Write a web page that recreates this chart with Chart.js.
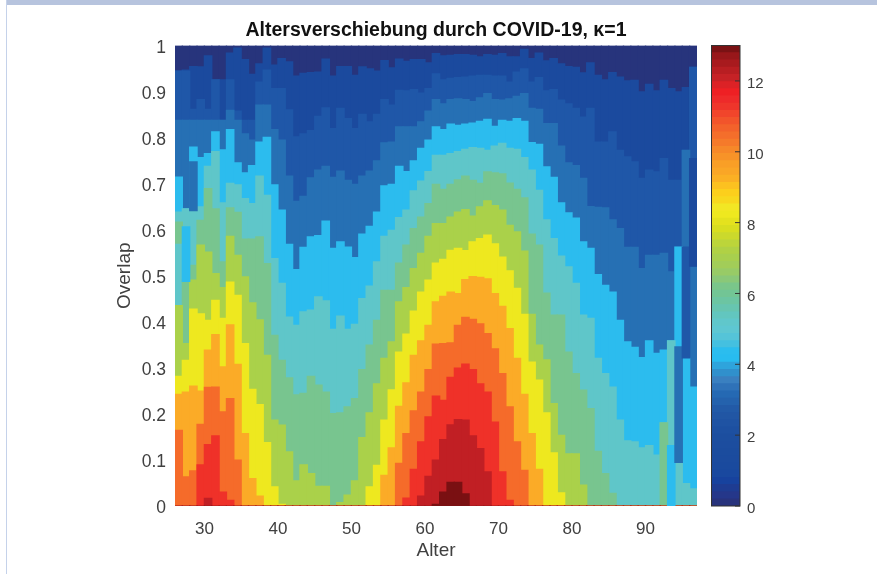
<!DOCTYPE html>
<html>
<head>
<meta charset="utf-8">
<title>Altersverschiebung</title>
<script src="https://cdn.jsdelivr.net/npm/chart.js"></script>
<style>
    html, body { margin: 0; padding: 0; background: #fff; overflow: hidden; }
    #page { position: relative; width: 877px; height: 574px; }
    #topBand { position: absolute; left: 6px; right: 0; top: 0; height: 5px; background: #b7c4de; }
    #leftLine { position: absolute; left: 6px; top: 0; bottom: 0; width: 1px; background: #c5d2ea; }
    canvas { position: absolute; left: 0; top: 0; }
</style>
</head>
<body>
<div id="page">
    <div id="topBand"></div>
    <div id="leftLine"></div>
    <canvas id="heatChart" width="877" height="574"></canvas>
    <canvas id="barChart" width="877" height="574"></canvas>
</div>
<script>
// Age of each column (left edge of the cell)
const ages = [
    26, 27, 28, 29, 30, 31, 32, 33, 34, 35,
    36, 37, 38, 39, 40, 41, 42, 43, 44, 45,
    46, 47, 48, 49, 50, 51, 52, 53, 54, 55,
    56, 57, 58, 59, 60, 61, 62, 63, 64, 65,
    66, 67, 68, 69, 70, 71, 72, 73, 74, 75,
    76, 77, 78, 79, 80, 81, 82, 83, 84, 85,
    86, 87, 88, 89, 90, 91, 92, 93, 94, 95, 96
];

// Overlap up to which the shift is at least n, per age
const atLeast1 = [
    .945, .947, .955, .954, .978, .926, .926, .984, .995, .970,
    .938, .961, .995, .958, .972, .965, .934, .940, .942, .943,
    .971, .934, .955, .955, .936, .954, .950, .945, .968, .952,
    .971, .966, .970, .970, .963, .983, .978, .979, .981, .981,
    .979, .976, .981, .979, .983, .976, .976, .992, .972, .984,
    .967, .972, .961, .955, .953, .941, .963, .936, .926, .942,
    .932, .924, .925, .900, .916, .902, .925, .907, .900, .909, .953
];
const atLeast2 = [
    .945, .945, .862, .883, .862, .926, .838, .926, .858, .838,
    .838, .921, .947, .907, .907, .861, .802, .809, .816, .847,
    .865, .820, .864, .842, .820, .851, .835, .851, .883, .871,
    .903, .902, .905, .897, .907, .939, .926, .929, .931, .932,
    .934, .936, .936, .934, .934, .921, .943, .950, .921, .931,
    .902, .905, .882, .874, .864, .845, .864, .791, .791, .813,
    .773, .759, .748, .712, .730, .726, .755, .708, .708, .773, .953
];
const atLeast3 = [
    .838, .838, .838, .838, .838, .838, .838, .860, .838, .809,
    .795, .871, .871, .818, .795, .717, .662, .673, .713, .730,
    .738, .714, .728, .708, .699, .717, .728, .750, .789, .791,
    .824, .824, .824, .835, .858, .883, .874, .883, .885, .883,
    .879, .887, .896, .883, .882, .885, .890, .896, .864, .862,
    .831, .831, .782, .746, .740, .712, .651, .649, .648, .622,
    .603, .562, .562, .516, .545, .545, .549, .509, .563, .773, .520
];
const atLeast4 = [
    .715, .646, .780, .757, .766, .813, .774, .818, .746, .724,
    .740, .791, .801, .698, .643, .569, .514, .562, .585, .588,
    .619, .560, .574, .563, .540, .591, .608, .639, .696, .699,
    .738, .727, .750, .777, .795, .824, .818, .830, .827, .830,
    .832, .836, .840, .825, .838, .836, .842, .836, .790, .786,
    .737, .714, .659, .637, .626, .574, .560, .503, .480, .465,
    .404, .357, .345, .323, .359, .332, .339, .359, .563, .321, .259
];
const atLeast5 = [
    .639, .646, .641, .650, .738, .770, .659, .701, .698, .668,
    .657, .717, .675, .538, .484, .411, .393, .422, .426, .455,
    .446, .384, .413, .384, .395, .451, .478, .531, .586, .599,
    .627, .643, .685, .706, .727, .762, .762, .766, .770, .775,
    .779, .777, .773, .782, .788, .777, .775, .757, .730, .686,
    .622, .581, .543, .520, .484, .415, .408, .321, .288, .259,
    .187, .142, .140, .127, .132, .111, .181, .359, .094, .049, .038
];
const atLeast6 = [
    .436, .491, .523, .621, .690, .646, .531, .648, .638, .580,
    .580, .585, .527, .371, .317, .279, .242, .245, .282, .263,
    .248, .201, .203, .216, .234, .297, .350, .404, .469, .469,
    .528, .567, .603, .628, .657, .699, .688, .699, .709, .717,
    .708, .701, .726, .724, .722, .702, .688, .670, .591, .567,
    .463, .415, .415, .335, .288, .252, .212, .119, .071, .028,
    0, 0, 0, 0, 0, 0, .181, 0, 0, 0, 0
];
const atLeast7 = [
    .436, .353, .491, .567, .552, .505, .475, .586, .545, .498,
    .442, .405, .328, .187, .176, .118, .055, .090, .071, .043,
    .043, 0, .008, .024, .055, .149, .203, .266, .321, .357,
    .444, .475, .516, .549, .586, .614, .614, .628, .639, .644,
    .630, .650, .663, .653, .643, .610, .596, .554, .417, .350,
    .318, .223, .154, .114, .114, .046, 0, 0, 0, 0,
    0, 0, 0, 0, 0, 0, 0, 0, 0, 0, 0
];
const atLeast8 = [
    .282, .317, .428, .418, .404, .447, .408, .487, .458, .353,
    .254, .221, .138, .042, .004, 0, 0, 0, 0, 0,
    0, 0, 0, 0, 0, 0, .042, .089, .187, .253,
    .335, .374, .424, .465, .491, .528, .536, .556, .560, .555,
    .574, .581, .589, .570, .541, .511, .473, .417, .313, .274,
    .203, .116, .029, 0, 0, 0, 0, 0, 0, 0,
    0, 0, 0, 0, 0, 0, 0, 0, 0, 0, 0
];
const atLeast9 = [
    .243, .248, .261, .250, .339, .373, .303, .394, .308, .158,
    .060, .022, 0, 0, 0, 0, 0, 0, 0, 0,
    0, 0, 0, 0, 0, 0, 0, 0, .067, .127,
    .217, .268, .328, .359, .393, .444, .456, .465, .462, .492,
    .499, .497, .494, .462, .434, .386, .321, .243, .158, .080,
    0, 0, 0, 0, 0, 0, 0, 0, 0, 0,
    0, 0, 0, 0, 0, 0, 0, 0, 0, 0, 0
];
const atLeast10 = [
    .165, .064, .077, .178, .258, .259, .205, .234, .100, 0,
    0, 0, 0, 0, 0, 0, 0, 0, 0, 0,
    0, 0, 0, 0, 0, 0, 0, 0, 0, 0,
    .093, .158, .207, .248, .297, .352, .353, .355, .393, .410,
    .406, .396, .375, .342, .288, .216, .140, .078, 0, 0,
    0, 0, 0, 0, 0, 0, 0, 0, 0, 0,
    0, 0, 0, 0, 0, 0, 0, 0, 0, 0, 0
];
const atLeast11 = [
    0, 0, 0, .090, .134, .153, .031, .013, 0, 0,
    0, 0, 0, 0, 0, 0, 0, 0, 0, 0,
    0, 0, 0, 0, 0, 0, 0, 0, 0, 0,
    0, .018, .080, .140, .194, .239, .230, .280, .300, .309,
    .297, .266, .248, .183, .075, .013, 0, 0, 0, 0,
    0, 0, 0, 0, 0, 0, 0, 0, 0, 0,
    0, 0, 0, 0, 0, 0, 0, 0, 0, 0, 0
];
const atLeast12 = [
    0, 0, 0, 0, .017, 0, 0, 0, 0, 0,
    0, 0, 0, 0, 0, 0, 0, 0, 0, 0,
    0, 0, 0, 0, 0, 0, 0, 0, 0, 0,
    0, 0, 0, .022, .065, .100, .145, .177, .188, .187,
    .153, .125, .075, 0, 0, 0, 0, 0, 0, 0,
    0, 0, 0, 0, 0, 0, 0, 0, 0, 0,
    0, 0, 0, 0, 0, 0, 0, 0, 0, 0, 0
];
const atLeast13 = [
    0, 0, 0, 0, 0, 0, 0, 0, 0, 0,
    0, 0, 0, 0, 0, 0, 0, 0, 0, 0,
    0, 0, 0, 0, 0, 0, 0, 0, 0, 0,
    0, 0, 0, 0, 0, .004, .031, .052, .052, .027,
    0, 0, 0, 0, 0, 0, 0, 0, 0, 0,
    0, 0, 0, 0, 0, 0, 0, 0, 0, 0,
    0, 0, 0, 0, 0, 0, 0, 0, 0, 0, 0
];

// Cells that break the order inside their column
const islandAge = [26, 27, 28, 93, 94, 95, 96];
const islandLow = [.570, .487, .641, 0, .094, .321, .520];
const islandHigh = [.617, .607, .748, .132, .346, .563, .755];
const islandLevel = [6, 4, 3, 4, 3, 2, 1];

// Colours of the levels 0 to 13
const levelColors = [
    '#27347c', '#1b4a9e', '#1f57a8', '#2670b4', '#2cbcee', '#5fc6c9', '#78c58f',
    '#aad14a', '#eee81f', '#fbab27', '#f56b2a', '#ef3129', '#c11f24', '#7a1012'
];

// Colour bar, bottom to top
const barColors = [
    '#28337c', '#25378a', '#1e3c92', '#17429e', '#19489f', '#1a4a9e', '#1b4b9e', '#1b4c9e',
    '#1c4d9f', '#1c4e9f', '#1d50a1', '#1f53a3', '#2156a4', '#225aa7', '#2462ad', '#2569b3',
    '#2f72b8', '#3a80c0', '#3090cc', '#2ea4dc', '#28bcef', '#2bbdee', '#44c0e0', '#55c4d8',
    '#5ec7d2', '#60c7cb', '#62c6bf', '#67c5b0', '#6cc5a2', '#72c595', '#7ac68a', '#8ac878',
    '#98cb66', '#a2cd58', '#a8cf4e', '#b0d145', '#bcd53a', '#cbd92c', '#d8de20', '#e4e21e',
    '#eee81f', '#f2e724', '#f8d81e', '#fccf1c', '#fcc120', '#fbb024', '#faa626', '#f99f26',
    '#f79328', '#f68829', '#f57a2a', '#f46e2b', '#f3622b', '#f2542b', '#f1452b', '#ef352b',
    '#ee2a2a', '#ee2024', '#dc2226', '#c62226', '#b81e22', '#a81a1e', '#98171a', '#7a1214'
];

const xTicks = [30, 40, 50, 60, 70, 80, 90];
const yTicks = [0, .1, .2, .3, .4, .5, .6, .7, .8, .9, 1];
const barTicks = [0, 2, 4, 6, 8, 10, 12];
const barMax = 13;

const FONT = '"Liberation Sans", Arial, sans-serif';
const TEXT_COLOR = '#404040';

function initHeatChart() {
    const contours = [
        atLeast13, atLeast12, atLeast11, atLeast10, atLeast9, atLeast8, atLeast7,
        atLeast6, atLeast5, atLeast4, atLeast3, atLeast2, atLeast1
    ];

    // Dataset 0 is drawn last, so every lower contour covers the higher levels
    const datasets = [];
    datasets.push({
        data: islandAge.map((age, i) => ({ x: age + 0.5, y: [islandLow[i], islandHigh[i]] })),
        backgroundColor: islandLevel.map(level => levelColors[level])
    });
    contours.forEach((values, i) => {
        datasets.push({
            data: ages.map((age, j) => ({ x: age + 0.5, y: values[j] })),
            backgroundColor: levelColors[13 - i]
        });
    });
    // Level 0 fills the column up to overlap 1
    datasets.push({
        data: ages.map(age => ({ x: age + 0.5, y: 1 })),
        backgroundColor: levelColors[0]
    });

    const ctx = document.getElementById('heatChart').getContext('2d');
    return new Chart(ctx, {
        type: 'bar',
        data: { datasets: datasets },
        options: {
            responsive: false,
            animation: false,
            layout: { padding: { left: 113.6, right: 180, top: 0, bottom: 12 } },
            datasets: {
                bar: { grouped: false, barThickness: 8, borderWidth: 0 }
            },
            plugins: {
                legend: { display: false },
                tooltip: { enabled: false },
                title: {
                    display: true,
                    fullSize: false,
                    text: 'Altersverschiebung durch COVID-19, \u03BA=1',
                    color: '#111',
                    font: { family: FONT, size: 19.5, weight: 'bold' },
                    padding: { top: 19.3, bottom: 2.8 }
                }
            },
            scales: {
                x: {
                    type: 'linear',
                    offset: false,
                    min: 26,
                    max: 97,
                    grid: { display: false, drawTicks: false, offset: false },
                    border: { display: false },
                    afterBuildTicks: axis => { axis.ticks = xTicks.map(v => ({ value: v })); },
                    afterFit: axis => { axis.height = 56; },
                    ticks: {
                        color: TEXT_COLOR,
                        padding: 13,
                        maxRotation: 0,
                        autoSkip: false,
                        font: { family: FONT, size: 17 }
                    },
                    title: {
                        display: true,
                        text: 'Alter',
                        color: TEXT_COLOR,
                        padding: 0,
                        font: { family: FONT, size: 19 }
                    }
                },
                y: {
                    min: 0,
                    max: 1,
                    grid: { display: false, drawTicks: false },
                    border: { display: false },
                    afterBuildTicks: axis => { axis.ticks = yTicks.map(v => ({ value: v })); },
                    afterFit: axis => { axis.width = 61.4; },
                    ticks: {
                        color: TEXT_COLOR,
                        padding: 9,
                        labelOffset: 2.5,
                        autoSkip: false,
                        font: { family: FONT, size: 17.5 },
                        callback: value => String(value)
                    },
                    title: {
                        display: true,
                        text: 'Overlap',
                        color: TEXT_COLOR,
                        padding: 0,
                        font: { family: FONT, size: 19 }
                    }
                }
            }
        }
    });
}

function initBarChart() {
    // Frame and inward tick marks of the colour bar
    const barFrame = {
        id: 'barFrame',
        afterDatasetsDraw(chart) {
            const { ctx, chartArea, scales } = chart;
            ctx.save();
            ctx.strokeStyle = '#333';
            ctx.lineWidth = 1;
            ctx.strokeRect(chartArea.left, chartArea.top, chartArea.width, chartArea.height);
            barTicks.forEach(tick => {
                const y = scales.y.getPixelForValue(tick);
                ctx.beginPath();
                ctx.moveTo(chartArea.right - 5, y);
                ctx.lineTo(chartArea.right, y);
                ctx.stroke();
            });
            ctx.restore();
        }
    };

    const ctx = document.getElementById('barChart').getContext('2d');
    return new Chart(ctx, {
        type: 'bar',
        data: {
            labels: ['shift'],
            datasets: barColors.map((color, i) => ({
                data: [(i + 1) * barMax / barColors.length],
                backgroundColor: color
            }))
        },
        plugins: [barFrame],
        options: {
            responsive: false,
            animation: false,
            layout: { padding: { left: 711.5, right: 0, top: 45.5, bottom: 68 } },
            datasets: {
                bar: { grouped: false, categoryPercentage: 1, barPercentage: 1, borderWidth: 0 }
            },
            plugins: {
                legend: { display: false },
                tooltip: { enabled: false }
            },
            scales: {
                x: {
                    grid: { display: false, drawTicks: false },
                    border: { display: false },
                    ticks: { display: false }
                },
                y: {
                    position: 'right',
                    min: 0,
                    max: barMax,
                    grid: { display: false, drawTicks: false },
                    border: { display: false },
                    afterBuildTicks: axis => { axis.ticks = barTicks.map(v => ({ value: v })); },
                    afterFit: axis => { axis.width = 137; },
                    ticks: {
                        color: TEXT_COLOR,
                        padding: 7,
                        labelOffset: 3,
                        autoSkip: false,
                        font: { family: FONT, size: 15 }
                    }
                }
            }
        }
    });
}

initHeatChart();
initBarChart();
</script>
</body>
</html>
